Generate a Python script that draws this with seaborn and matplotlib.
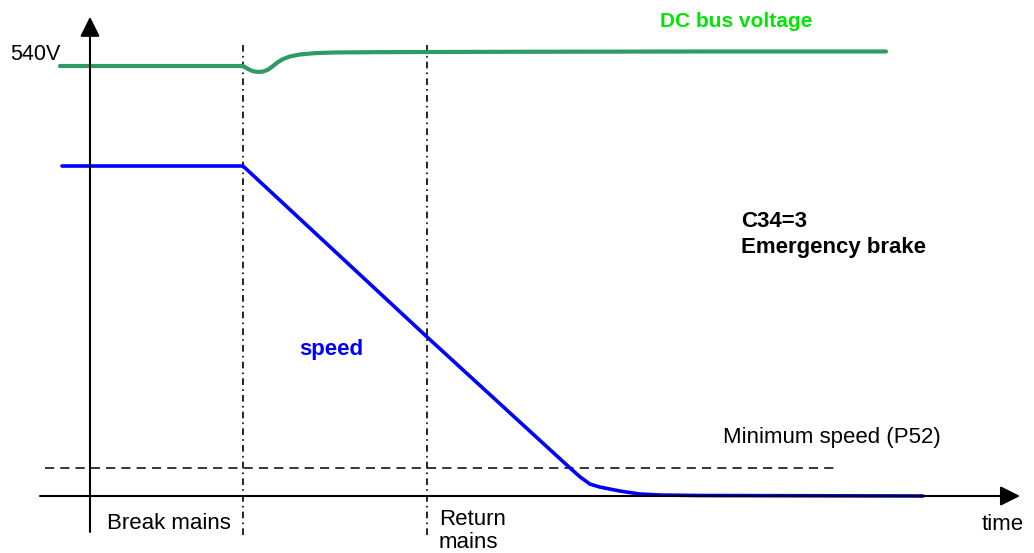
import matplotlib
matplotlib.use("Agg")
import matplotlib.pyplot as plt
import seaborn as sns

sns.set_style("white")
plt.rcParams['font.family'] = ['Liberation Sans', 'DejaVu Sans']
plt.rcParams['text.color'] = 'black'

# ---- data (time in arbitrary units, level in % of nominal speed) ----
speed_t = [-2.8, 15.3, 33.7, 48.0, 49.0, 50.0, 51.0, 53.0, 55.0, 57.0, 61.0, 83.3]
speed_v = [100, 100, 48.2, 8.5, 5.8, 3.6, 2.7, 1.5, 0.6, 0.3, 0.15, 0]

bus_t = [-3.0, 15.3, 15.8, 16.3, 16.8, 17.3, 17.8, 18.3, 18.8, 19.3,
         20.0, 21.0, 22.5, 24.5, 29.0, 41.0, 61.0, 79.6]
bus_v = [130.3, 130.3, 129.4, 128.7, 128.5, 128.6, 129.2, 130.3, 131.5, 132.4,
         133.2, 133.8, 134.2, 134.4, 134.5, 134.6, 134.7, 134.7]

break_t = 15.3
return_t = 33.7
min_speed = 8.5
min_speed_span = [-4.5, 74.7]

XLIM = (-9.0, 94.4)
YLIM = (-17.27, 150.3)

fig = plt.figure(figsize=(10.34, 5.53), dpi=100)
ax = fig.add_axes([0, 0, 1, 1])
ax.set_xlim(*XLIM)
ax.set_ylim(*YLIM)
ax.axis('off')

# axes arrows
arrow = dict(arrowstyle='-|>,head_length=0.6,head_width=0.3', lw=1.5,
             color='black', mutation_scale=20, shrinkA=0, shrinkB=0)
ax.annotate('', xy=(93.0, 0), xytext=(-5.0, 0), arrowprops=arrow)
ax.annotate('', xy=(0, 145.2), xytext=(0, -10.9), arrowprops=arrow)

# event lines
for t in (break_t, return_t):
    ax.plot([t, t], [-11.8, 137.6], color='black', lw=1.2,
            linestyle=(0, (4, 2.5, 1, 2.5)))

# minimum speed
ax.plot(min_speed_span, [min_speed, min_speed], color='black', lw=1.1,
        linestyle=(0, (6, 4)))

# curves
sns.lineplot(x=bus_t, y=bus_v, ax=ax, color='#2e9b64', lw=3, sort=False)
sns.lineplot(x=speed_t, y=speed_v, ax=ax, color='#0000ff', lw=2.6, sort=False)

fs = 16
ax.text(-8.0, 132.1, '540V', fontsize=fs - 0.5, va='baseline', ha='left')
ax.text(72.2, 142.1, 'DC bus voltage', fontsize=fs - 1, fontweight='bold',
        color='#00e600', va='baseline', ha='right')
ax.text(65.1, 81.5, 'C34=3', fontsize=fs, fontweight='bold', va='baseline')
ax.text(65.1, 73.6, 'Emergency brake', fontsize=fs, fontweight='bold', va='baseline')
ax.text(20.9, 42.7, 'speed', fontsize=fs, fontweight='bold', color='#0000ff', va='baseline')
ax.text(63.3, 16.1, 'Minimum speed (P52)', fontsize=fs, va='baseline')
ax.text(89.2, -10.3, 'time', fontsize=fs, va='baseline')
ax.text(1.7, -10.0, 'Break mains', fontsize=fs, va='baseline')
ax.text(34.9, -8.8, 'Return', fontsize=fs, va='baseline')
ax.text(34.9, -15.8, 'mains', fontsize=fs, va='baseline')

fig.savefig('out.png', dpi=100)
